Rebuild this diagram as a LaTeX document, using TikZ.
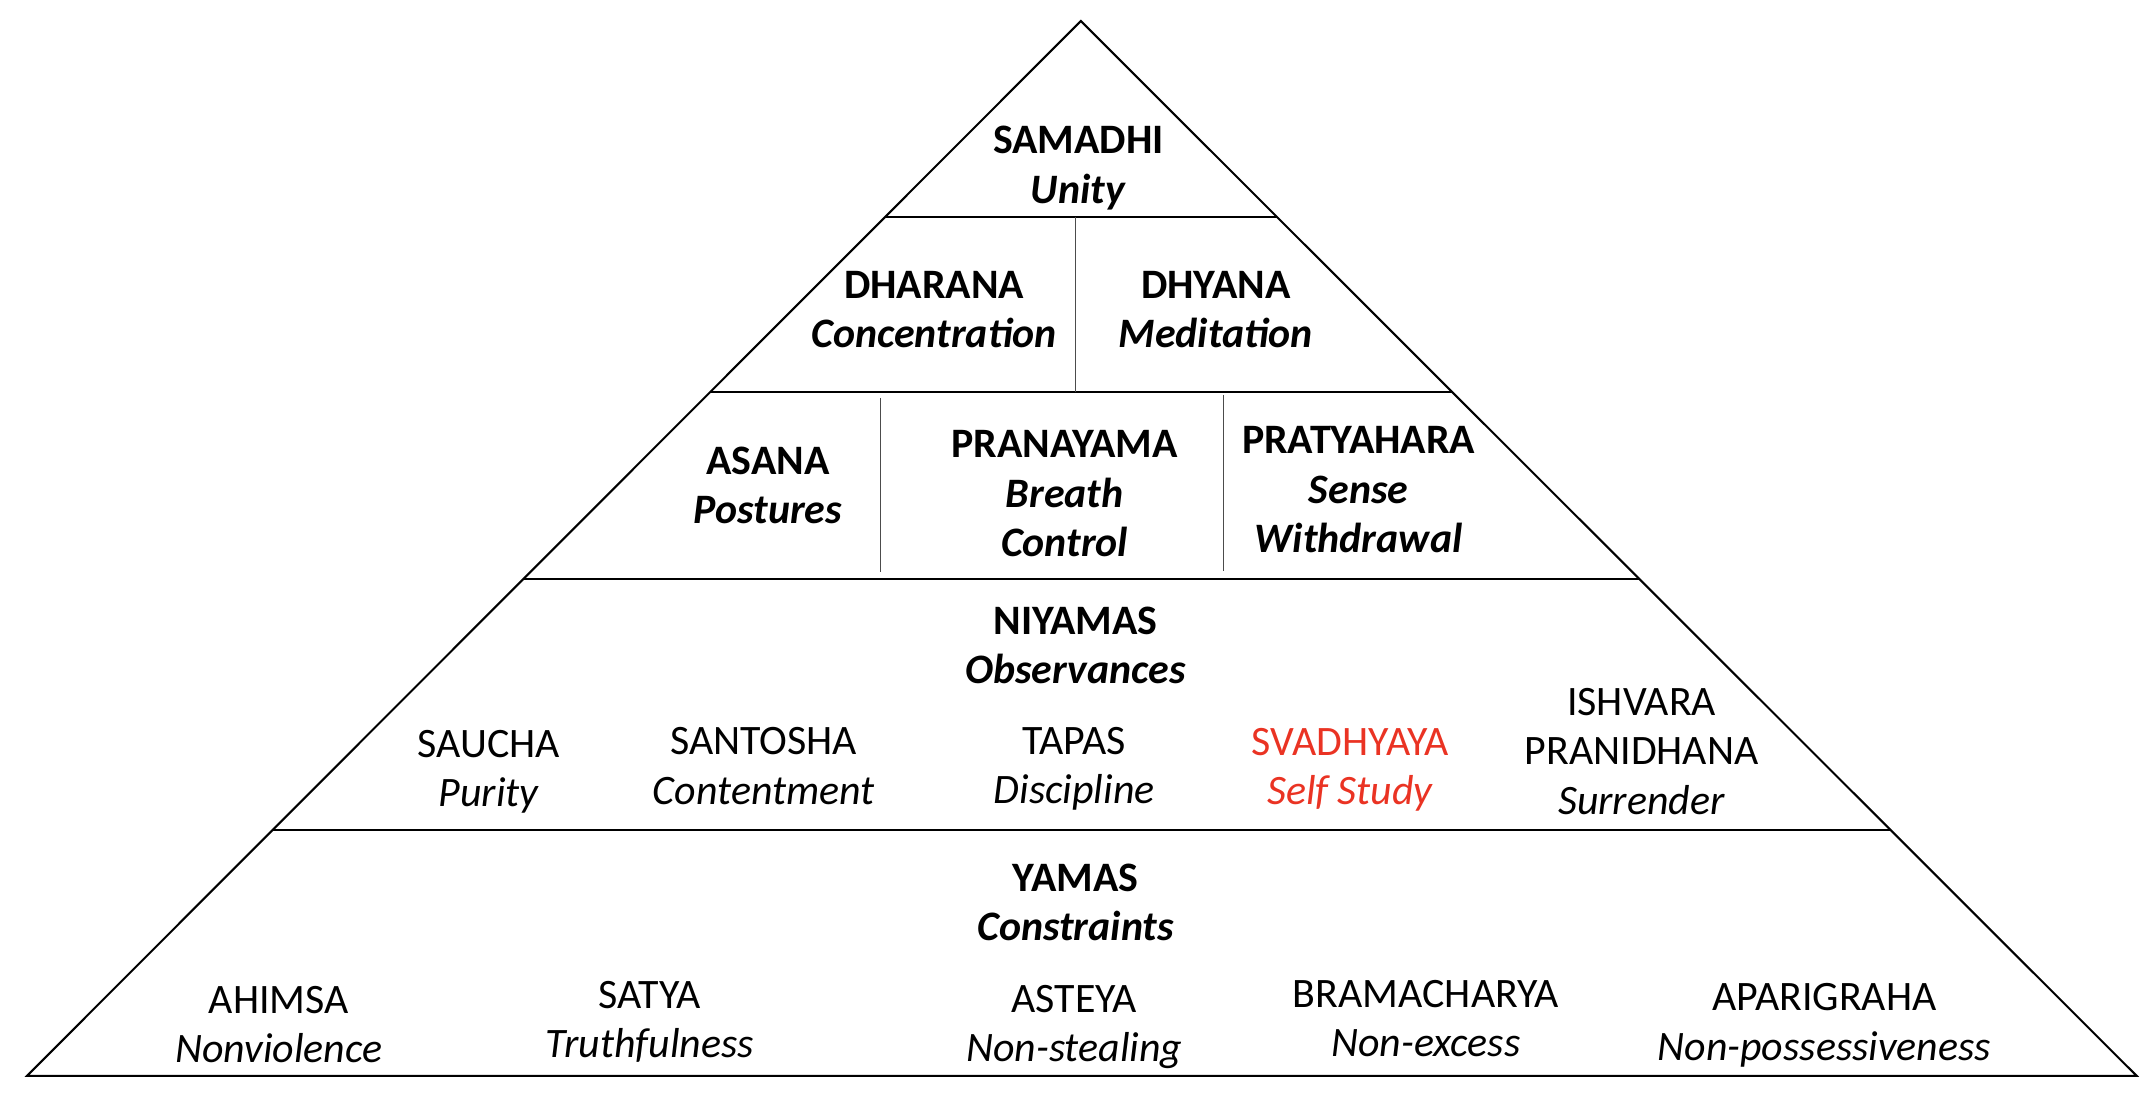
\documentclass[tikz,border=0pt]{standalone}
\usepackage{fontspec}
\setmainfont{Carlito}
\usetikzlibrary{calc}
\definecolor{svred}{RGB}{234,51,35}

\begin{document}
\begin{tikzpicture}[x=1pt, y=-1pt,
	limb/.style={align=center, font=\fontsize{30.5}{36}\selectfont\bfseries},
	rung/.style={align=center, font=\fontsize{30.5}{36}\selectfont},
	divider/.style={draw=black!70, line width=0.6pt}]
\useasboundingbox (0,0) rectangle (1568,806.6);

% pyramid
\coordinate (apex) at (786.8,15.3);
\coordinate (bl) at (19.7,783.1);
\coordinate (br) at (1555.3,783.1);
\draw[line width=1.5pt] (apex) -- (bl) -- (br) -- cycle;

% tiers
\foreach \t [count=\i] in {0.8143,0.6483,0.4711,0.2331}{
	\coordinate (l\i) at ($(bl)!\t!(apex)$);
	\coordinate (r\i) at ($(br)!\t!(apex)$);
	\draw[line width=1.1pt] (l\i) -- (r\i);
}
\draw[divider] (783.1,0 |- l1) -- (783.1,0 |- l2);
\draw[divider] (641.2,289.7) -- (641.2,416.3);
\draw[divider] (890.8,287.5) -- (890.8,415.6);

% top limbs
\node[limb] (samadhi) at (785,122.3) {SAMADHI\\\textit{Unity}};
\node[limb] (dharana) at (680,225.5) {DHARANA\\\textit{Concentration}};
\node[limb] (dhyana) at (885,225.5) {DHYANA\\\textit{Meditation}};
\node[limb] (asana) at (559,353.5) {ASANA\\\textit{Postures}};
\node[limb] (pranayama) at (775,359.5) {PRANAYAMA\\\textit{Breath}\\\textit{Control}};
\node[limb] (pratyahara) at (989,356.5) {PRATYAHARA\\\textit{Sense}\\\textit{Withdrawal}};

% niyamas
\node[limb] (niyamas) at (783,470) {NIYAMAS\\\textit{Observances}};
\node[rung] (saucha) at (356,562) {SAUCHA\\\textit{Purity}};
\node[rung] (santosha) at (556,557.5) {SANTOSHA\\\textit{Contentment}};
\node[rung] (tapas) at (782,559.5) {TAPAS\\\textit{Discipline}};
\node[rung, text=svred] (svadhyaya) at (983,560.5) {SVADHYAYA\\\textit{Self Study}};
\node[rung] (ishvara) at (1195,547) {ISHVARA\\PRANIDHANA\\\textit{Surrender}};

% yamas
\node[limb] (yamas) at (783,657) {YAMAS\\\textit{Constraints}};
\node[rung] (ahimsa) at (203,746) {AHIMSA\\\textit{Nonviolence}};
\node[rung] (satya) at (473,744) {SATYA\\\textit{Truthfulness}};
\node[rung] (asteya) at (782,747.5) {ASTEYA\\\textit{Non-stealing}};
\node[rung] (bramacharya) at (1038,741.5) {BRAMACHARYA\\\textit{Non-excess}};
\node[rung] (aparigraha) at (1328,746.5) {APARIGRAHA\\\textit{Non-possessiveness}};
\end{tikzpicture}
\end{document}
